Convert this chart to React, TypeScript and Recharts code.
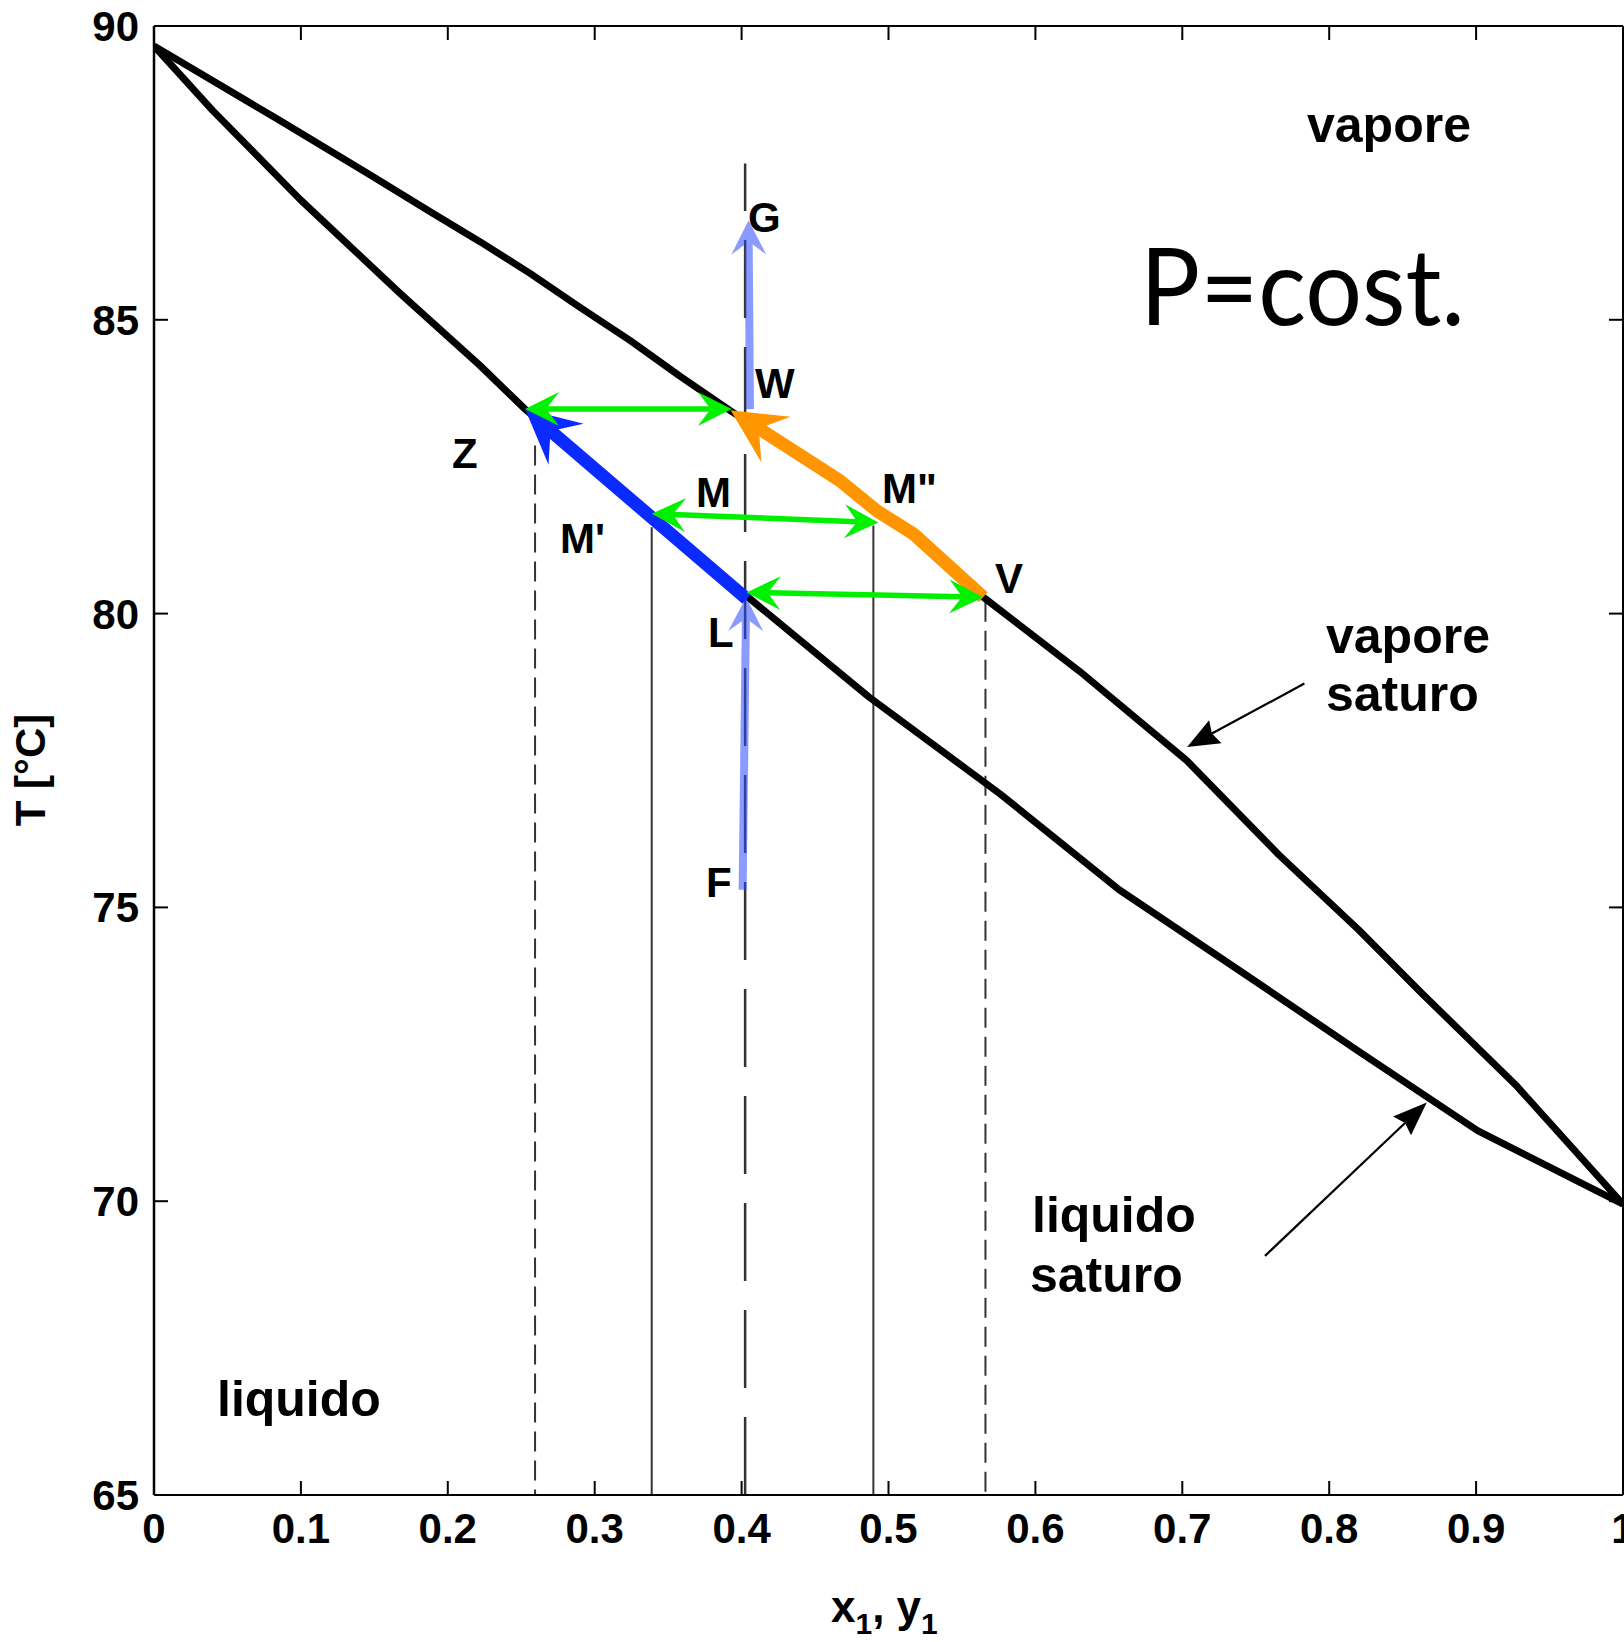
import { ComposedChart, Line, XAxis, YAxis } from 'recharts';

const X_TICKS = [0, 0.1, 0.2, 0.3, 0.4, 0.5, 0.6, 0.7, 0.8, 0.9, 1];
const T_TICKS = [65, 70, 75, 80, 85, 90];

// curva del vapore saturo (T vs y1)
const vaporCurve = [
  { x: 0, T: 89.66 }, { x: 0.0837, T: 88.42 }, { x: 0.145, T: 87.5 }, { x: 0.19, T: 86.81 },
  { x: 0.2219, T: 86.33 }, { x: 0.256, T: 85.79 }, { x: 0.29, T: 85.21 }, { x: 0.324, T: 84.65 },
  { x: 0.358, T: 84.04 }, { x: 0.3925, T: 83.45 }, { x: 0.467, T: 82.26 }, { x: 0.492, T: 81.75 },
  { x: 0.5168, T: 81.36 }, { x: 0.5645, T: 80.28 }, { x: 0.63, T: 79.02 }, { x: 0.703, T: 77.5 },
  { x: 0.7655, T: 75.9 }, { x: 0.82, T: 74.62 }, { x: 0.863, T: 73.54 }, { x: 0.928, T: 71.95 },
  { x: 1, T: 69.95 },
];

// curva del liquido saturo (T vs x1)
const liquidCurve = [
  { x: 0, T: 89.66 }, { x: 0.04, T: 88.56 }, { x: 0.0994, T: 87.05 }, { x: 0.1675, T: 85.45 },
  { x: 0.222, T: 84.22 }, { x: 0.2526, T: 83.48 }, { x: 0.3388, T: 81.62 }, { x: 0.4034, T: 80.3 },
  { x: 0.4867, T: 78.58 }, { x: 0.576, T: 76.93 }, { x: 0.657, T: 75.3 }, { x: 0.7386, T: 73.93 },
  { x: 0.8196, T: 72.56 }, { x: 0.901, T: 71.2 }, { x: 1, T: 69.95 },
];

// linee verticali
const guideZ = [{ x: 0.2594, T: 82.86 }, { x: 0.2594, T: 65 }];
const guideM1 = [{ x: 0.3388, T: 81.47 }, { x: 0.3388, T: 65 }];
const guideF = [{ x: 0.4024, T: 65 }, { x: 0.4024, T: 87.66 }];
const guideM2 = [{ x: 0.4897, T: 81.5 }, { x: 0.4897, T: 65 }];
const guideV = [{ x: 0.566, T: 80.2 }, { x: 0.566, T: 65 }];

// frecce
const arrowLZ = [{ x: 0.4035, T: 80.25 }, { x: 0.2526, T: 83.48 }];
const arrowVW = [
  { x: 0.5645, T: 80.28 }, { x: 0.5168, T: 81.36 }, { x: 0.492, T: 81.75 },
  { x: 0.467, T: 82.26 }, { x: 0.3925, T: 83.46 },
];
const tieZW = [{ x: 0.2526, T: 83.48 }, { x: 0.3933, T: 83.48 }];
const tieM = [{ x: 0.3388, T: 81.7 }, { x: 0.4931, T: 81.55 }];
const tieLV = [{ x: 0.4034, T: 80.36 }, { x: 0.5645, T: 80.28 }];
const arrowFL = [{ x: 0.4007, T: 75.3 }, { x: 0.4031, T: 80.28 }];
const arrowWG = [{ x: 0.4057, T: 83.48 }, { x: 0.4047, T: 86.69 }];
const pointerVap = [{ x: 0.7831, T: 78.81 }, { x: 0.7033, T: 77.73 }];
const pointerLiq = [{ x: 0.7563, T: 69.07 }, { x: 0.8664, T: 71.68 }];

const FONT = '"Liberation Sans", Arial, Helvetica, sans-serif';
const TICK = 14;

function head(tip: number[], from: number[], len: number, half: number, notchAt: number) {
  const dx = tip[0] - from[0];
  const dy = tip[1] - from[1];
  const l = Math.hypot(dx, dy) || 1;
  const ux = dx / l, uy = dy / l;
  const nx = -uy, ny = ux;
  const bx = tip[0] - ux * len, by = tip[1] - uy * len;
  const notch = [tip[0] - ux * len * notchAt, tip[1] - uy * len * notchAt];
  const poly = [
    tip, [bx + nx * half, by + ny * half], notch, [bx - nx * half, by - ny * half],
  ].map((q) => q.join(',')).join(' ');
  return { poly, base: notch };
}

type ArrowOpts = { color: string; width: number; len: number; half: number; both?: boolean; notch?: number; alpha?: number };

function arrowDot({ color, width, len, half, both = false, notch = 0.62, alpha = 1 }: ArrowOpts) {
  return (p: any) => {
    const pts = p.points;
    const last = pts.length - 1;
    if (p.index !== last) return <g key={p.index} />;
    const xy = pts.map((q: any) => [q.x, q.y]);
    const end = head(xy[last], xy[last - 1], len, half, notch);
    const shaft = xy.slice();
    shaft[last] = end.base;
    let start: { poly: string; base: number[] } | null = null;
    if (both) {
      start = head(xy[0], xy[1], len, half, notch);
      shaft[0] = start.base;
    }
    return (
      <g key={p.index} opacity={alpha}>
        <polyline points={shaft.map((q: number[]) => q.join(',')).join(' ')} fill="none" stroke={color} strokeWidth={width} strokeLinejoin="round" />
        <polygon points={end.poly} fill={color} />
        {start && <polygon points={start.poly} fill={color} />}
      </g>
    );
  };
}

function BottomTick(p: any) {
  return (
    <g>
      <line x1={p.x} y1={p.y} x2={p.x} y2={p.y - TICK} stroke="#000" strokeWidth={2} />
      <text x={p.x} y={p.y + 48} textAnchor="middle" fontSize={42} fontWeight={700} fontFamily={FONT} fill="#000">{p.payload.value}</text>
    </g>
  );
}
function LeftTick(p: any) {
  return (
    <g>
      <line x1={p.x} y1={p.y} x2={p.x + TICK} y2={p.y} stroke="#000" strokeWidth={2} />
      <text x={p.x - 15} y={p.y + 15} textAnchor="end" fontSize={42} fontWeight={700} fontFamily={FONT} fill="#000">{p.payload.value}</text>
    </g>
  );
}
function TopTick(p: any) {
  return <line x1={p.x} y1={p.y} x2={p.x} y2={p.y + TICK} stroke="#000" strokeWidth={2} />;
}
function RightTick(p: any) {
  return <line x1={p.x} y1={p.y} x2={p.x - TICK} y2={p.y} stroke="#000" strokeWidth={2} />;
}

const common = { xAxisId: 'b', yAxisId: 'l', dataKey: 'T', isAnimationActive: false, activeDot: false, legendType: 'none' as const };

export default function App() {
  const lbl = { fontFamily: FONT, fontWeight: 700, fill: '#000' };
  return (
    <div style={{ position: 'absolute', left: 0, top: 0, background: '#fff' }}>
      <ComposedChart width={1624} height={1642} margin={{ top: 25, right: 0, bottom: 0, left: 0 }}>
        <XAxis xAxisId="b" type="number" dataKey="x" domain={[0, 1]} allowDataOverflow ticks={X_TICKS} interval={0}
          height={147} tickSize={0} tickMargin={0} tickLine={false} tick={BottomTick} axisLine={{ stroke: '#000', strokeWidth: 2 }} />
        <XAxis xAxisId="t" orientation="top" type="number" dataKey="x" domain={[0, 1]} allowDataOverflow ticks={X_TICKS} interval={0}
          height={1} tickSize={0} tickMargin={0} tickLine={false} tick={TopTick} axisLine={{ stroke: '#000', strokeWidth: 2 }} />
        <YAxis yAxisId="l" type="number" domain={[65, 90]} allowDataOverflow ticks={T_TICKS} interval={0}
          width={154} tickSize={0} tickMargin={0} tickLine={false} tick={LeftTick} axisLine={{ stroke: '#000', strokeWidth: 2.5 }} />
        <YAxis yAxisId="r" orientation="right" type="number" domain={[65, 90]} allowDataOverflow ticks={T_TICKS} interval={0}
          width={1} tickSize={0} tickMargin={0} tickLine={false} tick={RightTick} axisLine={{ stroke: '#000', strokeWidth: 2 }} />

        <Line {...common} data={guideZ} stroke="#333" strokeWidth={2} strokeDasharray="20 9" dot={false} />
        <Line {...common} data={guideM1} stroke="#333" strokeWidth={2} dot={false} />
        <Line {...common} data={guideF} stroke="#333" strokeWidth={2.5} strokeDasharray="78 29" dot={false} />
        <Line {...common} data={guideM2} stroke="#333" strokeWidth={2} dot={false} />
        <Line {...common} data={guideV} stroke="#333" strokeWidth={2} strokeDasharray="20 9" dot={false} />

        <Line {...common} data={vaporCurve} stroke="#000" strokeWidth={7} strokeLinejoin="round" dot={false} />
        <Line {...common} data={liquidCurve} stroke="#000" strokeWidth={7} strokeLinejoin="round" dot={false} />

        <Line {...common} data={pointerVap} stroke="none" dot={arrowDot({ color: '#000', width: 2.2, len: 32, half: 13, notch: 0.88 })} />
        <Line {...common} data={pointerLiq} stroke="none" dot={arrowDot({ color: '#000', width: 2.2, len: 34, half: 13, notch: 0.88 })} />

        <Line {...common} data={arrowLZ} stroke="none" dot={arrowDot({ color: '#0a2aff', width: 13, len: 54, half: 27 })} />
        <Line {...common} data={arrowVW} stroke="none" dot={arrowDot({ color: '#ff9500', width: 13, len: 54, half: 27 })} />
        <Line {...common} data={tieZW} stroke="none" dot={arrowDot({ color: '#00f000', width: 5.5, len: 34, half: 17, both: true })} />
        <Line {...common} data={tieM} stroke="none" dot={arrowDot({ color: '#00f000', width: 5.5, len: 34, half: 17, both: true })} />
        <Line {...common} data={tieLV} stroke="none" dot={arrowDot({ color: '#00f000', width: 5.5, len: 34, half: 17, both: true })} />
        <Line {...common} data={arrowFL} stroke="none" dot={arrowDot({ color: '#2a4bff', width: 8, len: 34, half: 17.5, alpha: 0.55 })} />
        <Line {...common} data={arrowWG} stroke="none" dot={arrowDot({ color: '#2a4bff', width: 8, len: 34, half: 17.5, alpha: 0.55 })} />

        <text {...lbl} x={748} y={232} fontSize={42}>G</text>
        <text {...lbl} x={755} y={398} fontSize={42}>W</text>
        <text {...lbl} x={452} y={468} fontSize={42}>Z</text>
        <text {...lbl} x={696} y={507} fontSize={42}>M</text>
        <text {...lbl} x={882} y={503} fontSize={42}>M"</text>
        <text {...lbl} x={560} y={553} fontSize={42}>M'</text>
        <text {...lbl} x={995} y={593} fontSize={42}>V</text>
        <text {...lbl} x={708} y={647} fontSize={42}>L</text>
        <text {...lbl} x={706} y={897} fontSize={42}>F</text>

        <text {...lbl} x={1307} y={142} fontSize={50}>vapore</text>
        <text {...lbl} x={1326} y={653} fontSize={50}>vapore</text>
        <text {...lbl} x={1326} y={711} fontSize={50}>saturo</text>
        <text {...lbl} x={1032} y={1232} fontSize={50}>liquido</text>
        <text {...lbl} x={1030} y={1292} fontSize={50}>saturo</text>
        <text {...lbl} x={217} y={1416} fontSize={50}>liquido</text>
        <text x={1140} y={325} fontSize={106} fontFamily="Lato, 'Open Sans', sans-serif" fill="#000" textLength={325} lengthAdjust="spacingAndGlyphs">P=cost.</text>

        <text {...lbl} fontSize={42} transform="translate(45,770) rotate(-90)" textAnchor="middle">T [°C]</text>
        <text {...lbl} x={831} y={1622} fontSize={44}>
          x<tspan fontSize={30} dy={12}>1</tspan><tspan fontSize={44} dy={-12}>, y</tspan><tspan fontSize={30} dy={12}>1</tspan>
        </text>
      </ComposedChart>
    </div>
  );
}
